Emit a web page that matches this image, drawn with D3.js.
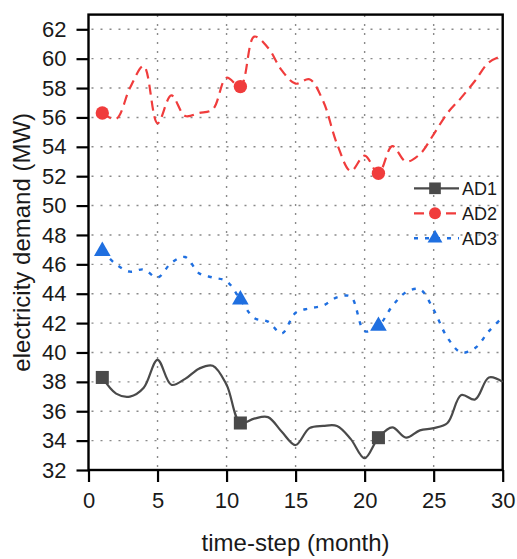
<!DOCTYPE html>
<html>
<head>
<meta charset="utf-8">
<script src="https://cdn.jsdelivr.net/npm/d3@7/dist/d3.min.js"></script>
<style>
  body { margin: 0; background: #fff; }
  svg text { font-family: "Liberation Sans", Arial, sans-serif; fill: #1a1a1a; }
</style>
</head>
<body>
<script>
// monthly values
var months = d3.range(1, 31);
var ad1 = [38.3, 37.2, 37.0, 37.6, 39.5, 37.8, 38.2, 38.9, 39.1, 37.8,
           35.2, 35.5, 35.6, 34.6, 33.7, 34.85, 35.0, 35.0, 34.1, 32.8,
           34.2, 34.9, 34.2, 34.7, 34.85, 35.2, 37.1, 36.8, 38.3, 38.0];
var ad2 = [56.3, 55.9, 58.0, 59.5, 55.6, 57.5, 56.1, 56.3, 56.55, 58.7,
           58.1, 61.5, 60.75, 59.2, 58.3, 58.6, 57.1, 54.2, 52.35, 53.4,
           52.2, 54.05, 53.0, 53.5, 54.85, 56.3, 57.35, 58.5, 59.75, 60.2];
var ad3 = [46.9, 46.0, 45.5, 45.65, 45.1, 46.1, 46.5, 45.4, 45.1, 44.85,
           43.6, 42.35, 42.1, 41.3, 42.7, 43.0, 43.2, 43.75, 43.8, 41.45,
           41.8, 43.15, 44.1, 44.3, 42.9, 41.0, 40.0, 40.3, 41.45, 42.4];
var seriesNames = ["AD1", "AD2", "AD3"];
var xTicks = [0, 5, 10, 15, 20, 25, 30];
var yTicks = d3.range(32, 63, 2);
var markerMonths = [1, 11, 21];

var w = 517, h = 559;
var pLeft = 88.5, pRight = 502.7, pTop = 14.6, pBottom = 470;

var svg = d3.select("body").append("svg")
  .attr("width", w)
  .attr("height", h);

var x = d3.scaleLinear().domain([0, 30]).range([pLeft, pRight]);
var y = d3.scaleLinear().domain([32, 63]).range([pBottom, pTop]);

// dotted grid
var grid = svg.append("g");
grid.selectAll(".hg").data(yTicks.filter(function(d) { return d > 32; })).enter().append("line")
  .attr("x1", pLeft + 3).attr("x2", pRight)
  .attr("y1", function(d) { return y(d); }).attr("y2", function(d) { return y(d); })
  .attr("stroke", "#8a8a8a").attr("stroke-width", 1.4).attr("stroke-dasharray", "2,7");
grid.selectAll(".vg").data(xTicks.filter(function(d) { return d > 0 && d < 30; })).enter().append("line")
  .attr("y1", pBottom - 3).attr("y2", pTop)
  .attr("x1", function(d) { return x(d); }).attr("x2", function(d) { return x(d); })
  .attr("stroke", "#8a8a8a").attr("stroke-width", 1.4).attr("stroke-dasharray", "2,7");

// axes
var xAxis = svg.append("g")
  .attr("transform", "translate(0," + pBottom + ")")
  .call(d3.axisBottom(x).tickValues(xTicks).tickSize(12).tickPadding(10).tickSizeOuter(0));
var yAxis = svg.append("g")
  .attr("transform", "translate(" + pLeft + ",0)")
  .call(d3.axisLeft(y).tickValues(yTicks).tickSize(12).tickPadding(10).tickSizeOuter(0));
[xAxis, yAxis].forEach(function(a) {
  a.select(".domain").remove();
  a.selectAll("line").attr("stroke", "#000").attr("stroke-width", 2.2);
  a.selectAll("text").style("font-size", "22px").attr("fill", "#1a1a1a");
});

// frame
svg.append("rect")
  .attr("x", pLeft).attr("y", pTop)
  .attr("width", pRight - pLeft).attr("height", pBottom - pTop)
  .attr("fill", "none").attr("stroke", "#000").attr("stroke-width", 2.4);

var series = [
  { name: "AD1", values: ad1, color: "#4a4a4a", dash: null, width: 2.2, shape: d3.symbolSquare, size: 170 },
  { name: "AD2", values: ad2, color: "#f03c3c", dash: "10,6", width: 2.2, shape: d3.symbolCircle, size: 140 },
  { name: "AD3", values: ad3, color: "#1f6fe0", dash: "4,7", width: 2.4, shape: d3.symbolTriangle, size: 120 }
];

var line = d3.line()
  .x(function(d, i) { return x(months[i]); })
  .y(function(d) { return y(d); })
  .curve(d3.curveCatmullRom.alpha(0.5));

var plot = svg.append("g");
series.forEach(function(s) {
  plot.append("path")
    .attr("d", line(s.values))
    .attr("fill", "none")
    .attr("stroke", s.color)
    .attr("stroke-width", s.width)
    .attr("stroke-dasharray", s.dash);
  plot.selectAll(".m" + s.name).data(markerMonths).enter().append("path")
    .attr("d", d3.symbol().type(s.shape).size(s.size))
    .attr("transform", function(m) { return "translate(" + x(m) + "," + y(s.values[m - 1]) + ")"; })
    .attr("fill", s.color);
});

// legend
var legend = svg.append("g");
series.forEach(function(s, i) {
  var ly = 188.3 + i * 25;
  legend.append("line")
    .attr("x1", 414).attr("x2", 459).attr("y1", ly).attr("y2", ly)
    .attr("stroke", s.color).attr("stroke-width", s.width)
    .attr("stroke-dasharray", s.dash);
  legend.append("path")
    .attr("d", d3.symbol().type(s.shape).size(s.size * 0.8))
    .attr("transform", "translate(435," + ly + ")")
    .attr("fill", s.color);
  legend.append("text")
    .attr("x", 462).attr("y", ly + 6.5)
    .style("font-size", "18px")
    .text(seriesNames[i]);
});

// axis titles
svg.append("text")
  .attr("x", (pLeft + pRight) / 2).attr("y", 551)
  .attr("text-anchor", "middle")
  .style("font-size", "24px")
  .text("time-step (month)");
svg.append("text")
  .attr("transform", "translate(30," + ((pTop + pBottom) / 2) + ") rotate(-90)")
  .attr("text-anchor", "middle")
  .style("font-size", "24px")
  .text("electricity demand (MW)");
</script>
</body>
</html>
